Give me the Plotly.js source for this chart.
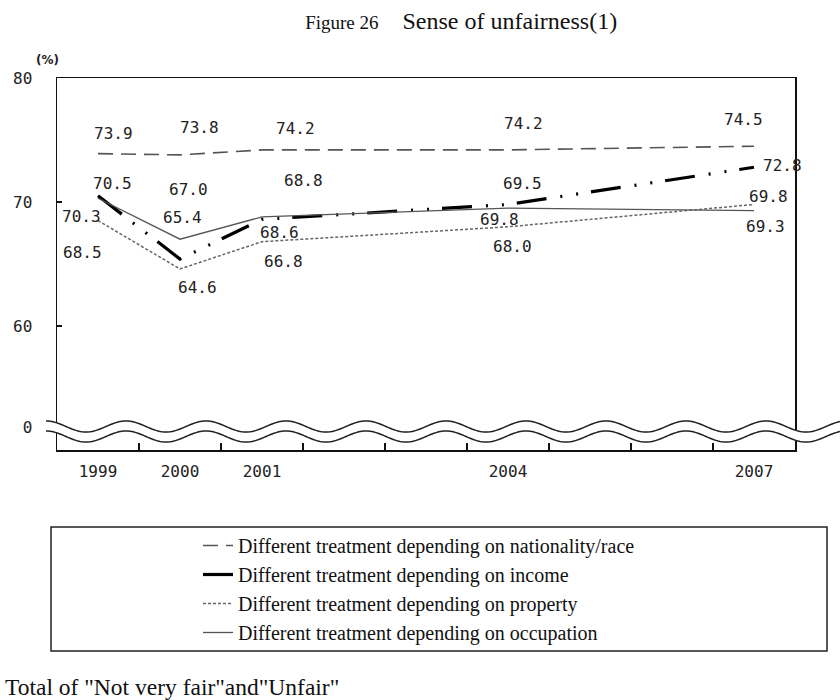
<!DOCTYPE html>
<html><head><meta charset="utf-8">
<script src="https://cdn.plot.ly/plotly-3.0.1.min.js"></script>
<style>body{margin:0;background:#fff}#chart{width:840px;height:700px}</style>
</head><body><div id="chart"></div>
<script>
// ---------- data ----------
const years = [1999, 2000, 2001, 2004, 2007];
const axisYears = [1999, 2000, 2001, 2002, 2003, 2004, 2005, 2006, 2007];
const axisYearLabels = ["1999", "2000", "2001", "", "", "2004", "", "", "2007"];
const nationality = [73.9, 73.8, 74.2, 74.2, 74.5];
const income = [70.5, 65.4, 68.6, 69.8, 72.8];
const property = [68.5, 64.6, 66.8, 68.0, 69.8];
const occupation = [70.3, 67.0, 68.8, 69.5, 69.3];
const seriesNames = [
  "Different treatment depending on nationality/race",
  "Different treatment depending on income",
  "Different treatment depending on property",
  "Different treatment depending on occupation"
];
const yTickVals = [51.8, 60, 70, 80];
const yTickText = ["0", "60", "70", "80"];
const titleSmall = "Figure 26";
const titleMain = "Sense of unfairness(1)";
const footnote = 'Total of "Not very fair"and"Unfair"';
const unitLabel = "(%)";

// ---------- styles / positions ----------
const W = 840, H = 700, L = 57, R = 795, T = 78, B = 450;
const pw = R - L, ph = B - T;
const px = x => (x - L) / pw;
const py = y => (B - y) / ph;

const styles = [
  {color: "#555", width: 1.6, dash: "15px,8px"},
  {color: "#000", width: 3.2, dash: "30px,14px,2px,14px,2px,13px"},
  {color: "#666", width: 1.5, dash: "3px,2px"},
  {color: "#555", width: 1.3, dash: "solid"}
];
// label offsets in px (dx right, dy down) per series per point
const labelOffsets = [
  [[15,-20],[19,-27],[33,-21],[15,-26],[-11,-27]],
  [[14,-12],[2,-42],[17,13],[-9,15],[28,-2]],
  [[-16,32],[17,19],[21,20],[4,20],[14,-8]],
  [[-17,18],[8,-50],[41,-36],[14,-25],[11,16]]
];
const allSeries = [nationality, income, property, occupation];
const numFont = {family: "DejaVu Sans Mono", size: 16, color: "#222"};
const serif = "Liberation Serif";

const traces = allSeries.map((vals, i) => ({
  type: "scatter", mode: "lines", x: years, y: vals, name: seriesNames[i],
  legendgroup: "g" + i,
  line: {color: styles[i].color, width: styles[i].width, dash: styles[i].dash},
  hoverinfo: "x+y"
}));

const annotations = [];
allSeries.forEach((vals, i) => {
  vals.forEach((v, j) => {
    annotations.push({
      x: years[j], y: v, xref: "x", yref: "y", text: v.toFixed(1),
      showarrow: false, xanchor: "center", yanchor: "middle",
      xshift: labelOffsets[i][j][0], yshift: -labelOffsets[i][j][1],
      font: numFont
    });
  });
});
annotations.push({
  xref: "paper", yref: "paper", x: px(47), y: py(60), text: "<b>" + unitLabel + "</b>",
  showarrow: false, xanchor: "center", yanchor: "middle",
  font: {family: "DejaVu Sans", size: 12, color: "#222"}
});
annotations.push({
  xref: "paper", yref: "paper", x: px(3), y: py(687), text: footnote,
  showarrow: false, xanchor: "left", yanchor: "middle",
  font: {family: serif, size: 23.5, color: "#111"}
});

// wavy axis-break band
function waveY(x, off) { return 426.5 + off - 5.5 * Math.cos(2 * Math.PI * (x - 126) / 80); }
const xs = [];
for (let x = 46; x <= 840; x += 2) xs.push(x);
const topPts = xs.map(x => [px(x), py(waveY(x, 0))]);
const botPts = xs.map(x => [px(x), py(waveY(x, 10))]);
const toPath = pts => pts.map((p, k) => (k ? "L" : "M") + p[0].toFixed(5) + "," + p[1].toFixed(5)).join(" ");
const bandPath = toPath(topPts) + " " + botPts.slice().reverse().map(p => "L" + p[0].toFixed(5) + "," + p[1].toFixed(5)).join(" ") + " Z";

const shapes = [
  {type: "path", xref: "paper", yref: "paper", path: bandPath, fillcolor: "#fff", line: {width: 0}, layer: "above"},
  {type: "path", xref: "paper", yref: "paper", path: toPath(topPts), line: {color: "#222", width: 1.5}, layer: "above"},
  {type: "path", xref: "paper", yref: "paper", path: toPath(botPts), line: {color: "#222", width: 1.5}, layer: "above"},
  {type: "rect", xref: "paper", yref: "paper", x0: px(51), x1: px(827), y0: py(527), y1: py(651),
   line: {color: "#222", width: 1.5}, fillcolor: "rgba(0,0,0,0)", layer: "above"}
];

const layout = {
  width: W, height: H,
  margin: {l: L, r: W - R, t: T, b: H - B, pad: 0},
  paper_bgcolor: "#fff", plot_bgcolor: "#fff",
  showlegend: true,
  title: {
    text: '<span style="font-size:19px">' + titleSmall + '</span>&#160;&#160;&#160;&#160;' + titleMain,
    font: {family: serif, size: 24, color: "#111"},
    x: 460 / W, xanchor: "center", xref: "paper", y: 1 - 21 / H, yanchor: "middle", yref: "container"
  },
  xaxis: {
    type: "linear", range: [1998.5, 2007.5], fixedrange: true,
    tickmode: "array", tickvals: axisYears, ticktext: axisYearLabels,
    ticks: "", showgrid: false, zeroline: false,
    showline: true, linecolor: "#111", linewidth: 1.5, mirror: true,
    tickfont: numFont, ticklabelstandoff: 6,
    minor: {tickmode: "array", tickvals: axisYears.slice(0, -1).map(y => y + 0.5), ticks: "inside", ticklen: 7, tickcolor: "#111", tickwidth: 1.2, showgrid: false}
  },
  yaxis: {
    type: "linear", range: [50, 80], fixedrange: true,
    tickmode: "array", tickvals: yTickVals, ticktext: yTickText,
    ticks: "inside", ticklen: 5, tickcolor: "#111", tickwidth: 1.2,
    showgrid: false, zeroline: false,
    showline: true, linecolor: "#111", linewidth: 1.5, mirror: true,
    tickfont: numFont, ticklabelstandoff: 20
  },
  legend: {
    x: px(198), y: py(526), xanchor: "left", yanchor: "top", xref: "paper", yref: "paper",
    bgcolor: "rgba(0,0,0,0)", borderwidth: 0,
    font: {family: serif, size: 20, color: "#111"},
    traceorder: "grouped", tracegroupgap: 0, itemwidth: 30
  },
  annotations: annotations,
  shapes: shapes
};

Plotly.newPlot("chart", traces, layout, {displayModeBar: false, staticPlot: true});
</script>
</body></html>
